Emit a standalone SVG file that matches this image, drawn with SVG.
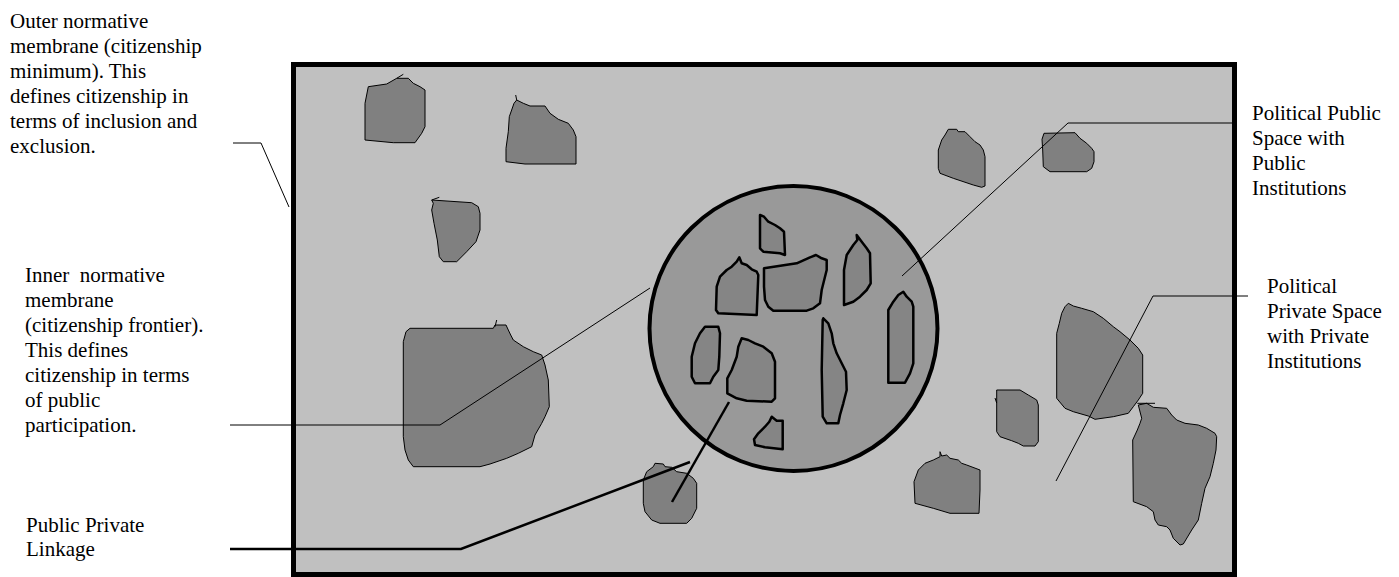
<svg xmlns="http://www.w3.org/2000/svg" width="1399" height="577" viewBox="0 0 1399 577">
<style>
  .lbl { font-family: "Liberation Serif", "Times New Roman", serif; font-size: 21px; fill: #000; }
  .ob { fill: #808080; stroke: #000; stroke-width: 1; stroke-linejoin: round; }
  .ib { fill: #858585; stroke: #000; stroke-width: 2.5; stroke-linejoin: round; }
  .lead { fill: none; stroke: #000; stroke-width: 1; }
  .lead2 { fill: none; stroke: #000; stroke-width: 2.5; }
</style>
<rect width="1399" height="577" fill="#fff"/>
<g id="outer-membrane">
  <rect x="293.5" y="64.5" width="941" height="510" fill="#c0c0c0" stroke="#000" stroke-width="5"/>
</g>
<g id="private-institutions">
  <polygon class="ob" points="365,140 365,103.3 368.3,86.7 386.7,84 396.7,78.3 408.3,78.3 413.3,83.3 420,86.7 425,90 425,126.7 421.7,133.3 415,142.7 393.3,142.7"/>
  <path class="lead" d="M396.7,78.3 L403.3,74.3"/>
  <polygon class="ob" points="506,161.7 506,148.3 508.3,131.7 509.3,116.7 514,103.3 516.7,100 523.3,103.3 530,106 545,106 550,113.3 558.3,119.3 568.3,123.3 573.3,130 576,136.7 576,164 525,164"/>
  <path class="lead" d="M516.7,100 L515.7,95"/>
  <polygon class="ob" points="431.7,200 471.7,202.7 478.3,206.7 480,213.3 480,230 476,241.7 466.7,251.7 456.7,261.7 443.3,261.7 439.3,256.7 437.3,240 434,223.3 431.7,210 433.3,203.3"/>
  <path class="lead" d="M431.7,200 L439.3,197.3"/>
  <polygon class="ob" points="410,328.3 493.3,328.3 495,325 506,325 508.3,330 510.7,335 513.3,340 523.3,346.7 533.3,351.7 541.7,355 545,365 548.3,380 549.3,406.7 545,416.7 541.7,423.3 535,435 531.7,446.7 518.3,453.3 506.7,458.3 490,464 480,466.7 413.3,466.7 408.3,460 405,450 403.3,436.7 403.3,341.7 406,331.7"/>
  <path class="lead" d="M495,326.7 L496.7,320"/>
  <polygon class="ob" points="643.3,480 646.7,471.7 653.3,466.7 655,463.3 663.3,464 665,466.7 671.7,467.3 676.7,471.7 686.7,473.3 693.3,478.3 696.7,483.3 696.7,508.3 691.7,518.3 686.7,523.3 660,523.3 651.7,520 645,511.7 643.3,503.3"/>
  <polygon class="ob" points="948.3,129.3 956.7,129.3 958.3,131.7 965,131.7 970,136.7 975,141.7 980,145 983.3,150 985,156.7 985,186 981.7,187.3 973.3,185 953.3,178.3 940,173.3 938.3,168.3 938.3,150 941.7,140 945,135"/>
  <polygon class="ob" points="1044,133.3 1075,132.7 1080,138.3 1086.7,143.3 1091.7,148.3 1094,151.7 1094,161.7 1091.7,168.3 1086.7,171.7 1050,171.7 1043.3,166.7 1042.7,150 1042,139.3"/>
  <polygon class="ob" points="1068.3,303.3 1073.3,306 1081.7,308.3 1093.3,311.7 1103.3,318.3 1113.3,326.7 1120,331.7 1130,340 1138.3,348.3 1142.7,355 1142.7,393.3 1138.3,400 1133.3,406.7 1128.3,413.3 1113.3,416.7 1095,419.3 1088.3,416 1073.3,411.7 1065,408.3 1056.7,398.3 1056.7,333.3 1059.3,323.3 1061.7,313.3 1065,306.7"/>
  <polygon class="ob" points="1146.7,403.3 1153.3,407.3 1166.7,408.3 1171.7,415 1176.7,420 1185,423.3 1198.3,425 1206.7,428.3 1215,433.3 1216.7,436.7 1216,450 1213.3,463.3 1210,476.7 1205,488.3 1201.7,503.3 1198.3,520 1191.7,530 1183.3,544 1180,545 1173.3,538.3 1170,530 1166.7,526.7 1158.3,525 1155,520 1153.3,511.7 1146.7,506.7 1133.3,501.7 1132.7,440 1137.3,430 1140,423.3 1141.7,418.3 1138.3,405"/>
  <path class="lead" d="M1137.3,403.3 L1155,403.3"/>
  <polygon class="ob" points="996.7,390 1020,390 1028.3,395 1036.7,400 1038.3,405 1038.3,441.7 1035,446 1023.3,446 1018.3,443.3 1011.7,440.7 1000,436.7 996.7,431.7"/>
  <path class="lead" d="M995,398 L996.7,403"/>
  <polygon class="ob" points="940,451.7 941.7,456 946.7,455 950,458.3 958.3,460 961.7,463.3 966.7,465 980,470 980,490 979,513.3 950,513.3 933.3,508.3 915,503.3 914,481.7 918.3,470 925,463.3 933.3,460 940,456.7"/>
</g>
<g id="inner-membrane">
  <ellipse cx="793.5" cy="328.5" rx="144" ry="142.5" fill="#999999" stroke="#000" stroke-width="4"/>
</g>
<g id="public-institutions">
  <polygon class="ib" points="760,215 764,216.7 768.3,221.7 775,225 780,228.3 784,231.7 785,255 780,253.3 763.3,251.7 760,248.3 760,230"/>
  <polygon class="ib" points="739.3,257.3 741.7,263.3 746.7,265 751.7,269.3 756.7,271.7 758.3,275 756.7,315 718.3,313.3 716,310 716.7,286.7 720,276.7 726.7,270 731.7,266.7 736.7,261.7"/>
  <polygon class="ib" points="764,268.3 796.7,263.3 810,257.3 816,255 821.7,258.3 826.7,260 826.7,270 825,276.7 821.7,290 820,303.3 813.3,308.3 806.7,310.7 773.3,310.7 768.3,306.7 765,300 764,286.7"/>
  <polygon class="ib" points="856.7,235 861.7,241.7 866.7,248.3 870,253.3 870.7,283.3 866.7,290 860,296.7 853.3,301.7 844,305 844,270 846.7,255 853.3,245 857.3,240"/>
  <polygon class="ib" points="903.3,291.7 906.7,296.7 911.7,301.7 913.3,306.7 913.3,363.3 910,373.3 905,382.7 888.3,382.7 888.3,310 893.3,301.7 898.3,295"/>
  <polygon class="ib" points="705,326.7 718.3,326.7 720,333.3 719.3,356.7 718.3,370 713.3,376.7 710,383.3 695,383.3 691.7,376.7 691.7,356.7 695,343.3 700,333.3"/>
  <polygon class="ib" points="741.7,338.3 748.3,340 755,343.3 763.3,346.7 771.7,353.3 775,361.7 775,398.3 771.7,401.7 746.7,400.7 736.7,398.3 727.3,393.3 727.3,378.3 731.7,370 736.7,356.7 738.3,346.7"/>
  <polygon class="ib" points="823.3,318.3 828.3,323.3 831.7,333.3 833.3,343.3 836.7,353.3 841.7,363.3 846,371.7 846.7,390 843.3,403.3 840,415 838.3,423.3 826.7,423.3 822.7,416.7 821.7,370 822.7,320"/>
  <polygon class="ib" points="771.7,416.7 776.7,420.7 782.7,420.7 782.7,449.3 765,447.3 755,445 754,439.3 758.3,433.3 765,426.7 769.3,421.7"/>
</g>
<g id="connectors">
  <path class="lead" d="M233,143 L261,143 L289,207"/>
  <path class="lead" d="M230,425 L440,425 L650,288"/>
  <path class="lead2" d="M230,549 L461,549 L690,462"/>
  <path class="lead2" d="M729,402 L672,502"/>
  <path class="lead" d="M1232,123 L1068,123 L902,276"/>
  <path class="lead" d="M1248,296 L1153,296 L1056,481"/>
</g>
<g id="label-outer">
  <text class="lbl" x="10" y="28">Outer normative</text>
  <text class="lbl" x="10" y="53">membrane (citizenship</text>
  <text class="lbl" x="10" y="78">minimum). This</text>
  <text class="lbl" x="10" y="103">defines citizenship in</text>
  <text class="lbl" x="10" y="128">terms of inclusion and</text>
  <text class="lbl" x="10" y="153">exclusion.</text>
</g>
<g id="label-inner">
  <text class="lbl" x="25" y="282" xml:space="preserve">Inner  normative</text>
  <text class="lbl" x="25" y="307">membrane</text>
  <text class="lbl" x="25" y="332">(citizenship frontier).</text>
  <text class="lbl" x="25" y="357">This defines</text>
  <text class="lbl" x="25" y="382">citizenship in terms</text>
  <text class="lbl" x="25" y="407">of public</text>
  <text class="lbl" x="25" y="432">participation.</text>
</g>
<g id="label-linkage">
  <text class="lbl" x="26" y="532">Public Private</text>
  <text class="lbl" x="26" y="556">Linkage</text>
</g>
<g id="label-public">
  <text class="lbl" x="1252" y="120">Political Public</text>
  <text class="lbl" x="1252" y="145">Space with</text>
  <text class="lbl" x="1252" y="170">Public</text>
  <text class="lbl" x="1252" y="195">Institutions</text>
</g>
<g id="label-private">
  <text class="lbl" x="1267" y="293">Political</text>
  <text class="lbl" x="1267" y="318">Private Space</text>
  <text class="lbl" x="1267" y="343">with Private</text>
  <text class="lbl" x="1267" y="368">Institutions</text>
</g>
</svg>
